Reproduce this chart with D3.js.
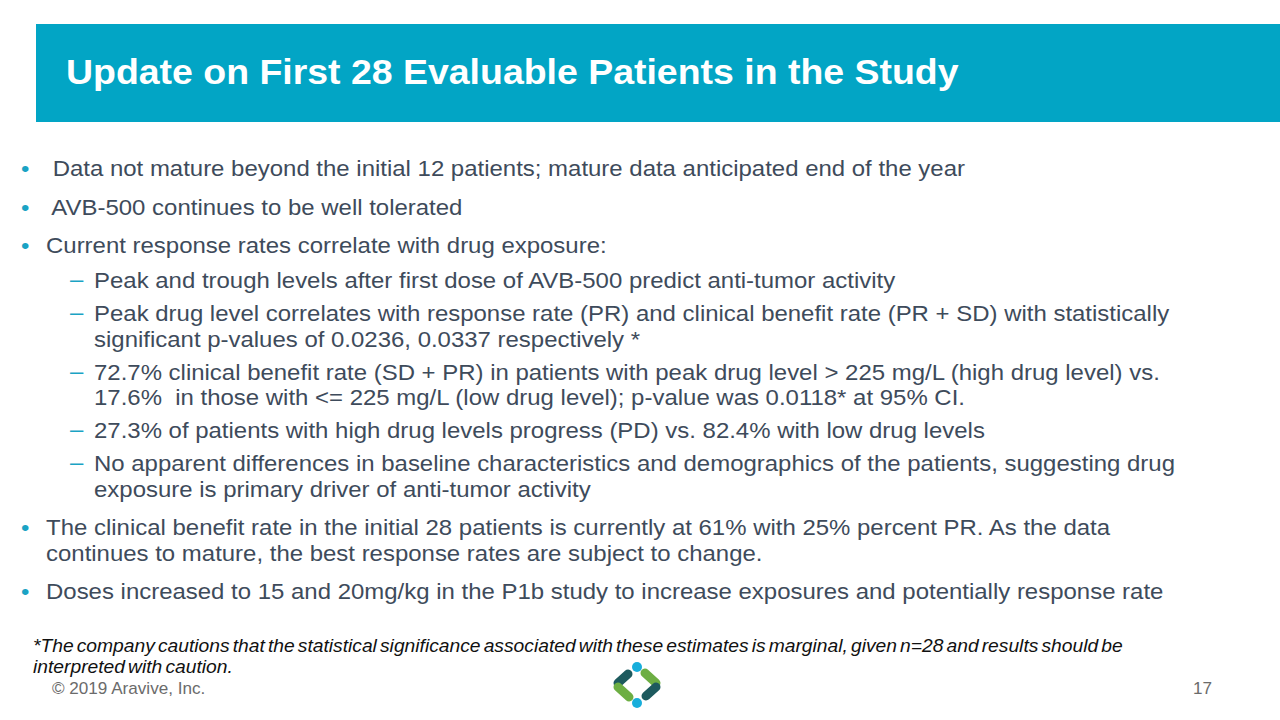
<!DOCTYPE html>
<html>
<head>
<meta charset="utf-8">
<script src="https://cdn.jsdelivr.net/npm/d3@7"></script>
<style>
  html, body { margin: 0; padding: 0; background: #fff; }
  svg { display: block; }
</style>
</head>
<body>
<svg id="slide" width="1280" height="720"></svg>
<script>
// ---- content ----
const title = "Update on First 28 Evaluable Patients in the Study";

// level 0 = bullet, level 1 = dash sub-bullet; each item has its wrapped lines
const bulletItems = [
  { level: 0, lines: [" Data not mature beyond the initial 12 patients; mature data anticipated end of the year"] },
  { level: 0, lines: [" AVB-500 continues to be well tolerated"] },
  { level: 0, lines: ["Current response rates correlate with drug exposure:"] },
  { level: 1, lines: ["Peak and trough levels after first dose of AVB-500 predict anti-tumor activity"] },
  { level: 1, lines: ["Peak drug level correlates with response rate (PR) and clinical benefit rate (PR + SD) with statistically",
                      "significant p-values of 0.0236, 0.0337 respectively *"] },
  { level: 1, lines: ["72.7% clinical benefit rate (SD + PR) in patients with peak drug level > 225 mg/L (high drug level) vs.",
                      "17.6%  in those with <= 225 mg/L (low drug level); p-value was 0.0118* at 95% CI."] },
  { level: 1, lines: ["27.3% of patients with high drug levels progress (PD) vs. 82.4% with low drug levels"] },
  { level: 1, lines: ["No apparent differences in baseline characteristics and demographics of the patients, suggesting drug",
                      "exposure is primary driver of anti-tumor activity"] },
  { level: 0, lines: ["The clinical benefit rate in the initial 28 patients is currently at 61% with 25% percent PR. As the data",
                      "continues to mature, the best response rates are subject to change."] },
  { level: 0, lines: ["Doses increased to 15 and 20mg/kg in the P1b study to increase exposures and potentially response rate"] }
];

const footnoteLines = [
  "*The company cautions that the statistical significance associated with these estimates is marginal, given n=28 and results should be",
  "interpreted with caution."
];
const copyright = "\u00A9 2019 Aravive, Inc.";
const pageNumber = "17";

// ---- styles ----
const W = 1280, H = 720;
const SX = 1.07; // horizontal stretch of the original slide rendering
const teal = "#02A5C5";
const textColor = "#3E4B5B";
const bulletColor = "#1AA3C4";
const font = "'Liberation Sans', Arial, Helvetica, sans-serif";

const svg = d3.select("#slide");
const place = (sel, x, y) => sel.attr("transform", (d, i) => {
  const xx = typeof x === "function" ? x(d, i) : x;
  const yy = typeof y === "function" ? y(d, i) : y;
  return `translate(${xx},${yy}) scale(${SX},1)`;
});

// header band
svg.append("rect")
  .attr("x", 36).attr("y", 24).attr("width", W - 36).attr("height", 98)
  .attr("fill", teal);
svg.append("text")
  .call(place, 66, 84)
  .attr("font-family", font).attr("font-weight", "bold").attr("font-size", 35)
  .attr("fill", "#fff")
  .text(title);

// ---- body layout ----
const fontSize = 22.4;
const lineH = 25.5;
const gapAfterTop = 35;   // from a top bullet to a following sub bullet
const gapSub = 33;
const gapTop = 38.5;
const textX = [46, 94];
const markX = [21, 70];

let y = 176;
const layout = [];
bulletItems.forEach((item, i) => {
  if (i > 0) {
    const prev = bulletItems[i - 1];
    const gap = item.level === 0 ? gapTop : (prev.level === 0 ? gapAfterTop : gapSub);
    y += gap;
  }
  item.lines.forEach((ln, j) => {
    if (j > 0) y += lineH;
    layout.push({ level: item.level, text: ln, y: y, first: j === 0 });
  });
});

const body = svg.append("g");
body.selectAll("text.line").data(layout).join("text")
  .attr("class", "line")
  .call(place, d => textX[d.level], d => d.y)
  .attr("font-family", font).attr("font-size", fontSize)
  .attr("fill", textColor)
  .attr("xml:space", "preserve")
  .style("white-space", "pre")
  .text(d => d.text);

// markers
const marks = layout.filter(d => d.first);
body.selectAll("text.mark").data(marks).join("text")
  .attr("class", "mark")
  .call(place, d => markX[d.level], d => d.y - (d.level === 0 ? 0 : 1))
  .attr("font-family", font).attr("font-size", fontSize)
  .attr("fill", bulletColor)
  .text(d => d.level === 0 ? "\u2022" : "\u2013");

// footnote
svg.selectAll("text.foot").data(footnoteLines).join("text")
  .attr("class", "foot")
  .call(place, 33, (d, i) => 652 + i * 21)
  .attr("font-family", font).attr("font-style", "italic").attr("font-size", 18)
  .attr("fill", "#111")
  .attr("word-spacing", -2.1)
  .text(d => d);

// copyright + page number
svg.append("text").call(place, 52, 694)
  .attr("font-family", font).attr("font-size", 16).attr("fill", "#6b6b6b")
  .text(copyright);
svg.append("text").call(place, 1212, 694).attr("text-anchor", "end")
  .attr("font-family", font).attr("font-size", 16).attr("fill", "#6b6b6b")
  .text(pageNumber);

// logo
const logo = svg.append("g").attr("transform", "translate(637,685)");
const dark = "#1D5A5E", green = "#6DAE43", cyan = "#18AEDB";
const arms = [
  { x1: -19, y1: -2, x2: -9, y2: -11, c: dark },
  { x1: -19, y1: 2, x2: -8, y2: 12, c: green },
  { x1: 19, y1: -2, x2: 8, y2: -12, c: green },
  { x1: 19, y1: 2, x2: 9, y2: 11, c: dark }
];
logo.selectAll("line").data(arms).join("line")
  .attr("x1", d => d.x1).attr("y1", d => d.y1)
  .attr("x2", d => d.x2).attr("y2", d => d.y2)
  .attr("stroke", d => d.c).attr("stroke-width", 9).attr("stroke-linecap", "round");
logo.selectAll("circle").data([-18, 18]).join("circle")
  .attr("cx", 0).attr("cy", d => d).attr("r", 5).attr("fill", cyan);
</script>
</body>
</html>
